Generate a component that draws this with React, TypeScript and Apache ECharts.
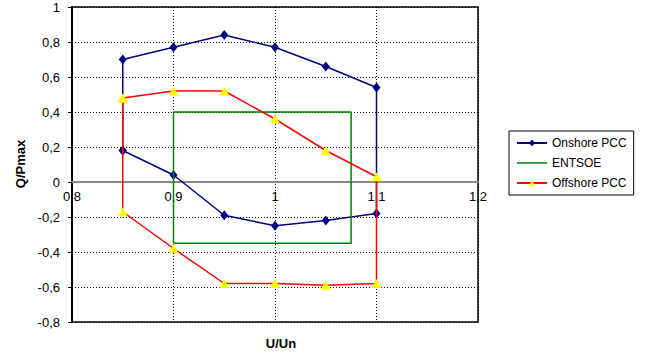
import React, { useEffect, useRef } from "react";
import * as echarts from "echarts";

const onshoreU = [0.85, 0.85, 0.9, 0.95, 1.0, 1.05, 1.1, 1.1, 1.05, 1.0, 0.95, 0.9, 0.85];
const onshoreQ = [0.18, 0.7, 0.77, 0.84, 0.77, 0.66, 0.54, -0.18, -0.22, -0.25, -0.19, 0.04, 0.18];

const entsoeU = [0.9, 0.9, 1.075, 1.075, 0.9];
const entsoeQ = [-0.35, 0.4, 0.4, -0.35, -0.35];

const offshoreU = [0.85, 0.9, 0.95, 1.0, 1.05, 1.1, 1.1, 1.05, 1.0, 0.95, 0.9, 0.85, 0.85];
const offshoreQ = [0.48, 0.52, 0.52, 0.36, 0.18, 0.03, -0.58, -0.59, -0.58, -0.58, -0.38, -0.17, 0.48];

const pairs = (xs: number[], ys: number[]) => xs.map((x, i) => [x, ys[i]]);
const fmt = (v: number) => String(Math.round(v * 10) / 10).replace(".", ",");

const FONT = "Liberation Sans, Arial, sans-serif";
const GRID_H = 315;
const Y_MIN = -0.8;
const Y_MAX = 1;

export default function App() {
  const ref = useRef<HTMLDivElement>(null);
  useEffect(() => {
    const chart = echarts.init(ref.current!, null, { renderer: "svg" });
    const zeroOffset = (GRID_H * (0 - Y_MIN)) / (Y_MAX - Y_MIN);
    chart.setOption({
      animation: false,
      backgroundColor: "#fff",
      textStyle: { fontFamily: FONT },
      grid: {
        left: 72,
        top: 7,
        width: 406,
        height: GRID_H,
        show: true,
        borderColor: "#000",
        borderWidth: 1.5,
      },
      xAxis: {
        type: "value",
        min: 0.8,
        max: 1.2,
        interval: 0.1,
        position: "bottom",
        offset: -zeroOffset,
        axisLine: { onZero: false, lineStyle: { color: "#888", width: 2 } },
        axisTick: { show: false },
        axisLabel: {
          formatter: fmt,
          color: "#000",
          fontSize: 13,
          fontFamily: FONT,
          margin: 8,
          showMinLabel: true,
          showMaxLabel: true,
        },
        splitLine: { show: true, lineStyle: { color: "#000", type: [1, 2], width: 1 } },
      },
      yAxis: {
        type: "value",
        min: Y_MIN,
        max: Y_MAX,
        interval: 0.2,
        axisLine: { show: true, onZero: false, lineStyle: { color: "#000", width: 2 } },
        axisTick: { show: true, length: 4, lineStyle: { color: "#000", width: 1 } },
        axisLabel: { formatter: fmt, color: "#000", fontSize: 13, fontFamily: FONT, margin: 12 },
        splitLine: { show: true, lineStyle: { color: "#000", type: [1, 2], width: 1 } },
      },
      legend: {
        orient: "vertical",
        left: 509,
        top: 131,
        padding: [6, 7],
        itemGap: 8,
        itemWidth: 30,
        itemHeight: 8,
        borderColor: "#000",
        borderWidth: 1,
        textStyle: { fontSize: 12, color: "#000", fontFamily: FONT },
        data: [
          { name: "Onshore PCC" },
          { name: "ENTSOE", icon: "path://M0,0 H30 V1.5 H0 Z" },
          { name: "Offshore PCC" },
        ],
      },
      graphic: [
        {
          type: "text",
          x: 20,
          y: 164,
          rotation: Math.PI / 2,
          style: {
            text: "Q/Pmax",
            fontSize: 13,
            fontWeight: "bold",
            fontFamily: FONT,
            fill: "#000",
            align: "center",
            verticalAlign: "middle",
          },
        },
        {
          type: "text",
          x: 281,
          y: 343,
          style: {
            text: "U/Un",
            fontSize: 13,
            fontWeight: "bold",
            fontFamily: FONT,
            fill: "#000",
            align: "center",
            verticalAlign: "middle",
          },
        },
      ],
      series: [
        {
          name: "Onshore PCC",
          type: "line",
          data: pairs(onshoreU, onshoreQ),
          symbol: "diamond",
          symbolSize: [8, 10],
          showAllSymbol: true,
          lineStyle: { color: "#000080", width: 1.5 },
          itemStyle: { color: "#000080", borderWidth: 0 },
          z: 2,
        },
        {
          name: "ENTSOE",
          type: "line",
          data: pairs(entsoeU, entsoeQ),
          symbol: "none",
          lineStyle: { color: "#008000", width: 1.5 },
          itemStyle: { color: "#008000" },
          z: 3,
        },
        {
          name: "Offshore PCC",
          type: "line",
          data: pairs(offshoreU, offshoreQ),
          symbol: "triangle",
          symbolSize: [10, 9],
          showAllSymbol: true,
          lineStyle: { color: "#ff0000", width: 1.5 },
          itemStyle: { color: "#ffff00", borderWidth: 0 },
          z: 4,
        },
      ],
    });
    return () => chart.dispose();
  }, []);
  return (
    <div
      ref={ref}
      style={{ position: "fixed", left: 0, top: 0, width: 651, height: 360 }}
    />
  );
}
